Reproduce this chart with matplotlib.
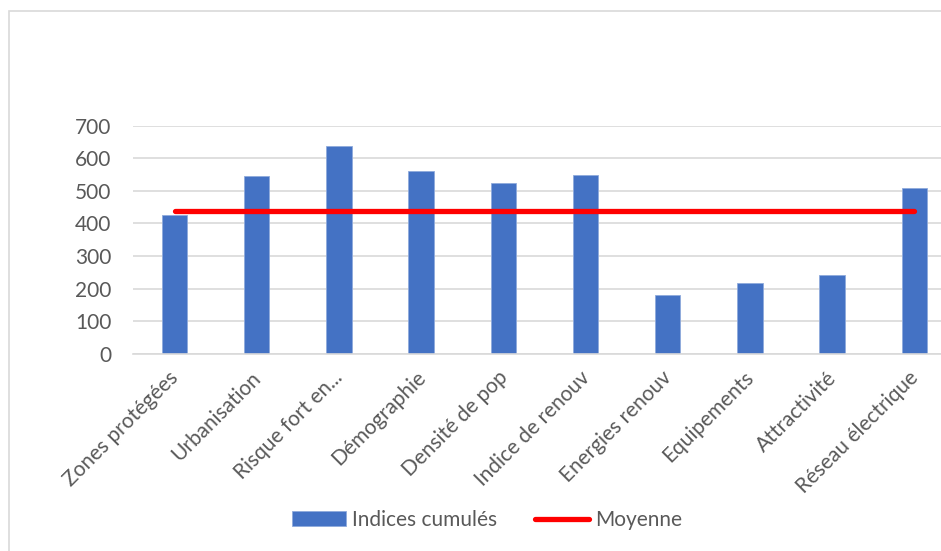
import matplotlib
matplotlib.use('Agg')
from matplotlib import pyplot as plt
from matplotlib.patches import Rectangle
from matplotlib.transforms import ScaledTranslation
import numpy as np

categories = ['Zones protégées', 'Urbanisation', 'Risque fort en...', 'Démographie',
              'Densité de pop', 'Indice de renouv', 'Energies renouv', 'Equipements',
              'Attractivité', 'Réseau électrique']
indices = [426, 545, 639, 560, 525, 548, 179, 216, 241, 510]
moyenne = [439, 439, 439, 439, 439, 439, 439, 439, 439, 439]
yticks = [0, 100, 200, 300, 400, 500, 600, 700]

plt.rcParams['font.family'] = ['Lato', 'DejaVu Sans']
grey = '#595959'
fs = 15

fig = plt.figure(figsize=(9.41, 5.51), dpi=100)
# outer chart border (runs off the right/bottom edge like the screenshot)
fig.patches.append(Rectangle((9 / 941, -0.1), 1.2, 1 - 11 / 551 + 0.1,
                             transform=fig.transFigure, fill=False,
                             edgecolor='#d9d9d9', linewidth=1.2))

ax = fig.add_axes([133.4 / 941, 1 - 353.7 / 551, 822 / 941, 228 / 551])
x = np.arange(len(categories))
bars = ax.bar(x, indices, width=0.31, color='#4472c4', edgecolor='#8faadc',
              linewidth=0.6, zorder=2, label='Indices cumulés')
line, = ax.plot(x, moyenne, color='#ff0000', linewidth=3.8, solid_capstyle='round',
                zorder=3, label='Moyenne')

ax.set_xlim(-0.5, len(categories) - 0.5)
ax.set_ylim(0, 700)
ax.set_yticks(yticks)
ax.yaxis.grid(True, color='#d9d9d9', linewidth=1.2, zorder=0)
ax.set_axisbelow(True)
for s in ['top', 'right', 'left']:
    ax.spines[s].set_visible(False)
ax.spines['bottom'].set_color('#d9d9d9')
ax.spines['bottom'].set_linewidth(1.2)
ax.tick_params(axis='both', length=0, labelsize=fs, labelcolor=grey)
ax.tick_params(axis='y', pad=16)
ax.set_xticks(x)
ax.set_xticklabels(categories, rotation=45, ha='right', rotation_mode='anchor')
ax.tick_params(axis='x', pad=10)
shift = ScaledTranslation(-0.06, 0, fig.dpi_scale_trans)
for lbl in ax.get_xticklabels():
    lbl.set_transform(lbl.get_transform() + shift)

fig.legend([bars, line], ['Indices cumulés', 'Moyenne'], loc='center',
           bbox_to_anchor=(487 / 941, 1 - 520 / 551), ncol=2,
           frameon=False, fontsize=fs, labelcolor=grey, handlelength=2.6,
           handleheight=0.7, handletextpad=0.3, columnspacing=1.8)

plt.savefig('out.png', dpi=100)
